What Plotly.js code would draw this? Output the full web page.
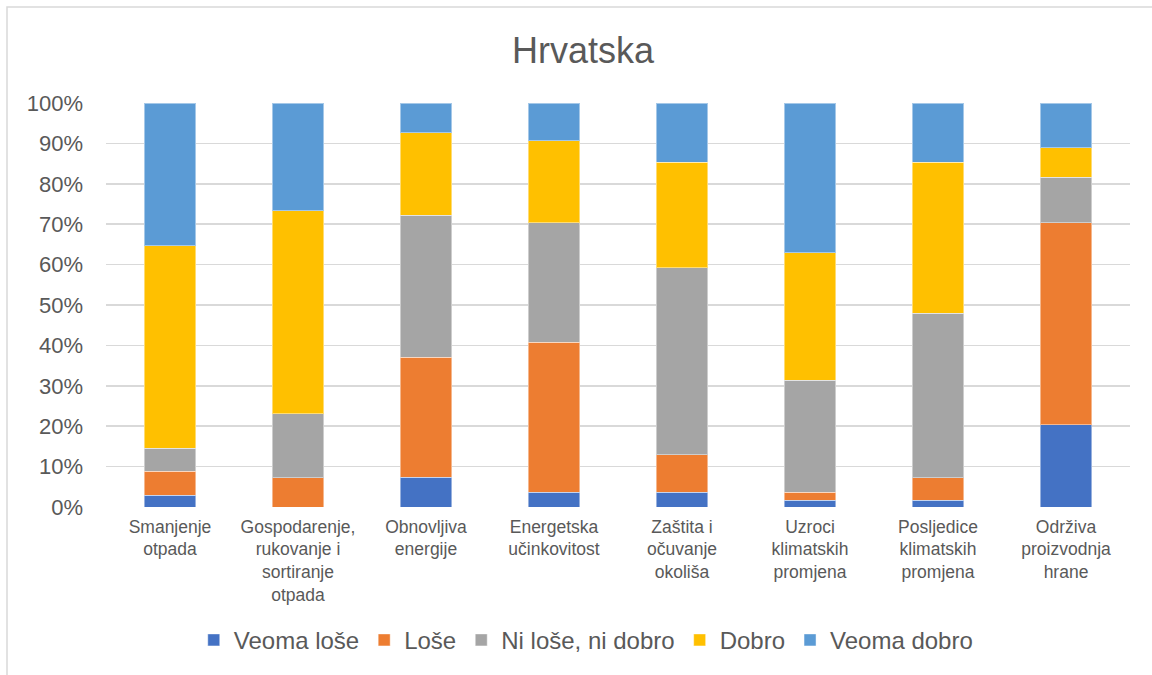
<!DOCTYPE html>
<html>
<head>
<meta charset="utf-8">
<script src="https://cdn.plot.ly/plotly-3.0.1.min.js"></script>
<style>html,body{margin:0;padding:0;background:#fff;}#chart{width:1152px;height:675px;}</style>
</head>
<body>
<div id="chart"></div>
<script>
const categories = [
  "Smanjenje<br>otpada",
  "Gospodarenje,<br>rukovanje i<br>sortiranje<br>otpada",
  "Obnovljiva<br>energije",
  "Energetska<br>učinkovitost",
  "Zaštita i<br>očuvanje<br>okoliša",
  "Uzroci<br>klimatskih<br>promjena",
  "Posljedice<br>klimatskih<br>promjena",
  "Održiva<br>proizvodnja<br>hrane"
];
const veomaLose = [2.9, 0.0, 7.4, 3.6, 3.6, 1.7, 1.7, 20.3];
const lose      = [5.9, 7.2, 29.7, 37.2, 9.3, 1.9, 5.6, 50.0];
const niLoseNiDobro = [5.8, 15.9, 35.1, 29.5, 46.3, 27.8, 40.7, 11.3];
const dobro     = [50.1, 50.2, 20.4, 20.4, 26.1, 31.5, 37.3, 7.3];
const veomaDobro = [35.3, 26.7, 7.4, 9.3, 14.7, 37.1, 14.7, 11.1];
const seriesNames = ["Veoma loše", "Loše", "Ni loše, ni dobro", "Dobro", "Veoma dobro"];
const seriesColors = ["#4472C4", "#ED7D31", "#A5A5A5", "#FFC000", "#5B9BD5"];
const yTickVals = [0,10,20,30,40,50,60,70,80,90,100];
const yTickText = ["0%","10%","20%","30%","40%","50%","60%","70%","80%","90%","100%"];

const allSeries = [veomaLose, lose, niLoseNiDobro, dobro, veomaDobro];
const traces = allSeries.map((vals, i) => ({
  type: 'bar',
  name: seriesNames[i],
  x: categories,
  y: vals,
  marker: {color: seriesColors[i], line: {color: 'rgba(255,255,255,0.45)', width: 1}},
  hoverinfo: 'name+y'
}));

const font = "Liberation Sans, Arial, sans-serif";
const layout = {
  width: 1152, height: 675,
  margin: {l: 106, r: 22, t: 103, b: 168},
  paper_bgcolor: '#ffffff', plot_bgcolor: '#ffffff',
  barmode: 'stack', barnorm: 'percent', bargap: 0.6,
  font: {family: font, color: '#595959'},
  title: {text: 'Hrvatska', font: {family: font, size: 36, color: '#595959'}, xref: 'container', x: 0.506, xanchor: 'center', yref: 'container', y: 0.925, yanchor: 'middle'},
  xaxis: {
    type: 'category', showgrid: false, zeroline: false, showline: false,
    ticks: '', tickfont: {family: font, size: 17.5, color: '#595959'},
    ticklabelstandoff: 7, tickangle: 0, automargin: false
  },
  yaxis: {
    range: [0, 100], tickvals: yTickVals, ticktext: yTickText,
    showgrid: true, gridcolor: '#d9d9d9', gridwidth: 1.5,
    zeroline: false, showline: false, ticks: '',
    tickfont: {family: font, size: 22, color: '#595959'},
    ticklabelstandoff: 22, automargin: false, fixedrange: true
  },
  showlegend: true,
  legend: {
    orientation: 'h', x: 0.469, xanchor: 'center', y: -0.33, yanchor: 'middle',
    traceorder: 'normal', font: {family: font, size: 24, color: '#595959'},
    itemwidth: 30, bgcolor: 'rgba(0,0,0,0)'
  },
  shapes: [{
    type: 'rect', xref: 'paper', yref: 'paper',
    x0: (7-106)/1024, x1: (1165-106)/1024, y0: (507-690)/404, y1: (507-7)/404,
    line: {color: '#d9d9d9', width: 1.5}, fillcolor: 'rgba(0,0,0,0)', layer: 'below'
  }]
};

Plotly.newPlot('chart', traces, layout, {displayModeBar: false, staticPlot: true});
</script>
</body>
</html>
